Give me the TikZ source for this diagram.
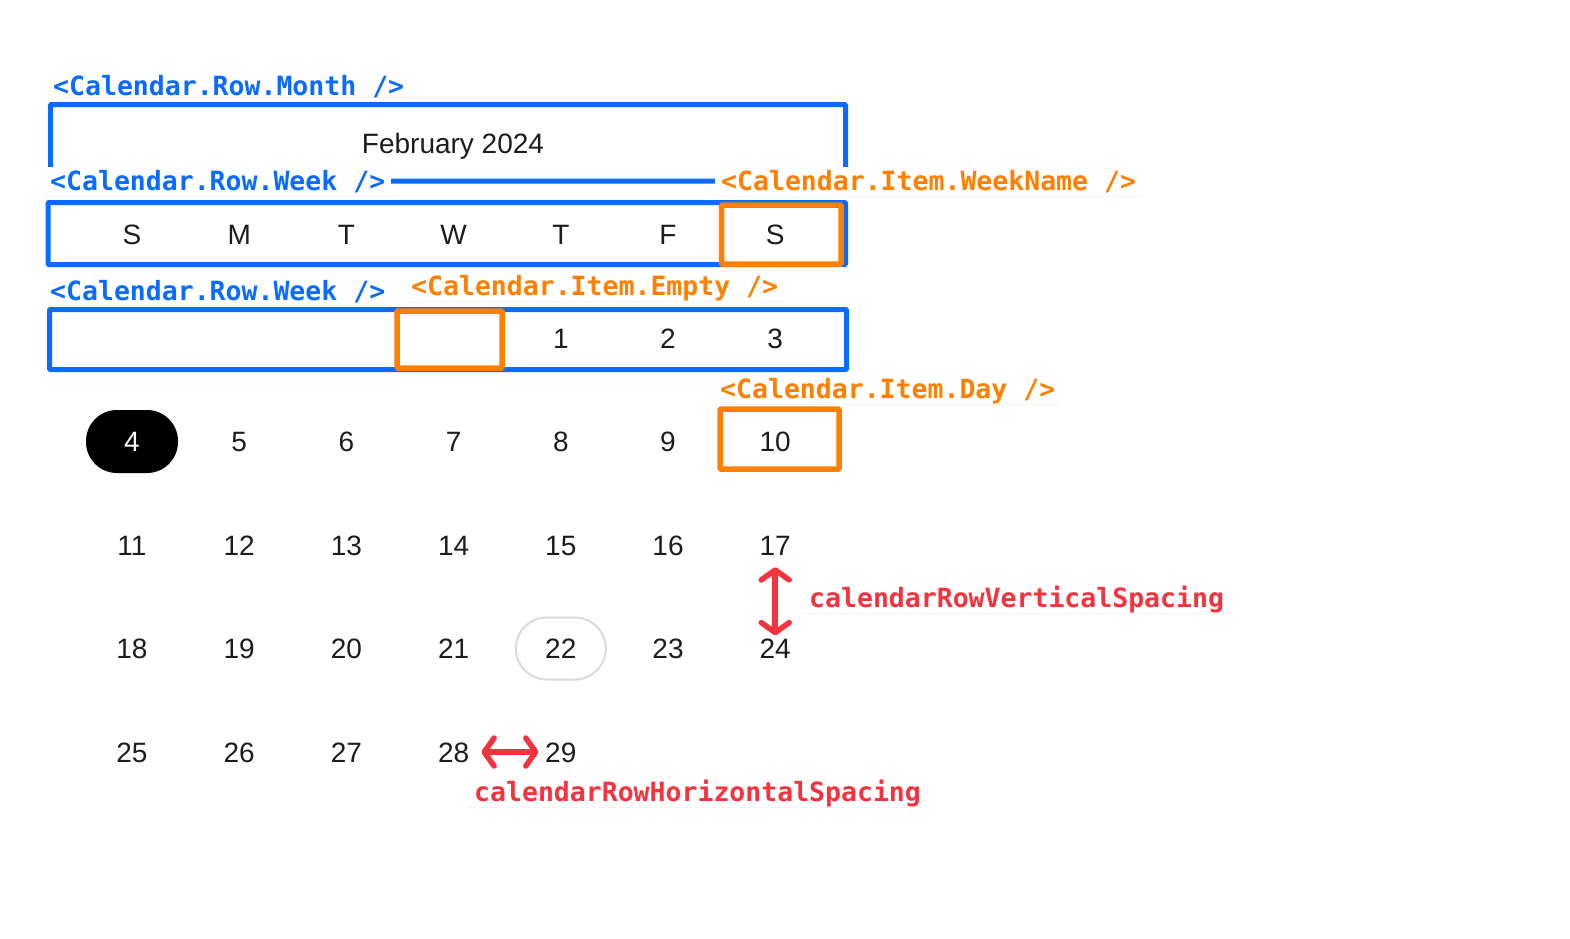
\documentclass[tikz,border=0pt]{standalone}
\usepackage{fontspec}
\setmainfont{Liberation Sans}
\newfontfamily\tagfont{DejaVu Sans Mono}
\usetikzlibrary{arrows.meta,shadows}

\definecolor{calblue}{HTML}{0A6CFF}
\definecolor{calorange}{HTML}{FF8000}
\definecolor{calred}{HTML}{F5333F}
\definecolor{ink}{HTML}{1C1C1E}
\definecolor{ringgray}{HTML}{DADADA}

\begin{document}
\begin{tikzpicture}[
    x=1pt, y=-1pt,
    >={Straight Barb[length=10pt,width=28pt,round]},
    font=\fontsize{28}{30}\selectfont,
    day/.style = {
      inner sep = 0pt,
      text height = 20pt,
      text depth = 0pt,
      text = ink
    },
    today/.style = {
      fill = black,
      text = white,
      rounded corners = 31pt,
      minimum width = 92pt,
      minimum height = 63pt
    },
    ring/.style = {
      draw = ringgray,
      line width = 2pt,
      rounded corners = 31pt,
      minimum width = 90pt,
      minimum height = 62pt
    },
    rowbox/.style = {draw = calblue, line width = 5pt, rounded corners = 1pt},
    itembox/.style = {draw = calorange, line width = 5.5pt, rounded corners = 1pt},
    tag/.style = {
      anchor = west,
      fill = white,
      inner xsep = 6pt,
      inner ysep = 5pt,
      text height = 19pt,
      text depth = 0pt,
      font = \tagfont\bfseries\fontsize{26.5}{28}\selectfont,
      drop shadow = {shadow xshift=0pt, shadow yshift=-1.5pt, opacity=.08}
    },
    spacing/.style = {draw = calred, line width = 5.5pt, line cap = round, <->}
  ]
  \useasboundingbox (0,0) rectangle (1570,938);

  % rows and items
  \draw[rowbox]  (50.5,104.5) rectangle (845.5,181);
  \draw[rowbox]  (48,202.5) rectangle (845.5,264.5);
  \draw[rowbox]  (49.5,309.5) rectangle (846.5,369.5);
  \draw[itembox] (721.5,205) rectangle (841,264);
  \draw[itembox] (397,311) rectangle (502,368);
  \draw[itembox] (720,409) rectangle (839,469);

  \node[day] (month) at (453,143) {February 2024};
  \foreach \w [count=\i from 0] in {S,M,T,W,T,F,S}
    \node[day] (w\i) at ({132+107.2*\i},234) {\w};
  \foreach \d in {1,...,29} {
    \pgfmathtruncatemacro\c{mod(\d+3,7)}
    \pgfmathtruncatemacro\r{div(\d+3,7)}
    \ifnum\d=4 \def\extra{today}\else\ifnum\d=22 \def\extra{ring}\else
      \def\extra{}\fi\fi
    \node[day, \extra] (d\d) at ({132+107.2*\c},{338+103.5*\r}) {\d};
  }

  % component tags
  \node[tag, text=calblue]   (tMonth)    at (47,86)   {<Calendar.Row.Month />};
  \node[tag, text=calblue]   (tWeekA)    at (44,181)  {<Calendar.Row.Week />};
  \node[tag, text=calorange] (tWeekName) at (715,181) {<Calendar.Item.WeekName />};
  \node[tag, text=calblue]   (tWeekB)    at (44,291)  {<Calendar.Row.Week />};
  \node[tag, text=calorange] (tEmpty)    at (405,286) {<Calendar.Item.Empty />};
  \node[tag, text=calorange] (tDay)      at (714,389) {<Calendar.Item.Day />};
  \node[tag, text=calred]    (tVert)     at (803,598) {calendarRowVerticalSpacing};
  \node[tag, text=calred]    (tHorz)     at (468,792) {calendarRowHorizontalSpacing};

  \draw[spacing, shorten <=12pt, shorten >=3pt] (d17.south) -- (d24.north);
  \draw[spacing, shorten <=12pt, shorten >=6.5pt] (d28.east) -- (d29.west);
\end{tikzpicture}
\end{document}
